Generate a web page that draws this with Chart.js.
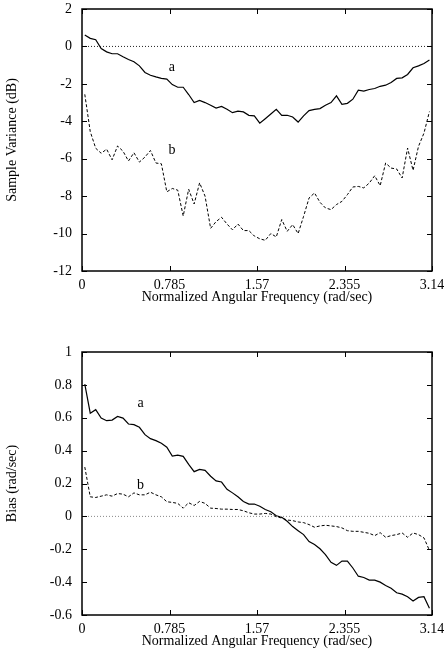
<!DOCTYPE html>
<html>
<head>
<meta charset="utf-8">
<script src="https://cdn.jsdelivr.net/npm/chart.js@4/dist/chart.umd.min.js"></script>
<style>
  html, body { margin: 0; padding: 0; background: #fff; }
  #wrap { position: relative; width: 444px; height: 650px; }
  canvas { position: absolute; left: 0; }
</style>
</head>
<body>
<div id="wrap">
  <canvas id="c1" width="444" height="306" style="top:0px"></canvas>
  <canvas id="c2" width="444" height="344" style="top:306px"></canvas>
</div>
<script>
// ---- data ----
const freq = [0.025,0.074,0.123,0.172,0.221,0.270,0.319,0.368,0.417,0.466,0.515,0.565,0.614,0.663,0.712,0.761,
  0.810,0.859,0.908,0.957,1.006,1.055,1.104,1.154,1.203,1.252,1.301,1.350,1.399,1.448,1.497,1.546,
  1.595,1.644,1.694,1.743,1.792,1.841,1.890,1.939,1.988,2.037,2.086,2.135,2.184,2.234,2.283,2.332,
  2.381,2.430,2.479,2.528,2.577,2.626,2.675,2.724,2.773,2.823,2.872,2.921,2.970,3.019,3.068,3.117];

const varianceA = [0.61,0.43,0.36,-0.11,-0.29,-0.39,-0.39,-0.55,-0.70,-0.82,-1.04,-1.39,-1.54,-1.63,-1.71,-1.75,
  -2.04,-2.18,-2.18,-2.57,-3.00,-2.89,-3.00,-3.14,-3.29,-3.21,-3.36,-3.54,-3.46,-3.50,-3.68,-3.71,
  -4.10,-3.86,-3.61,-3.36,-3.68,-3.68,-3.77,-4.04,-3.71,-3.43,-3.36,-3.32,-3.14,-3.00,-2.64,-3.09,
  -3.04,-2.82,-2.34,-2.39,-2.30,-2.25,-2.13,-2.07,-1.93,-1.71,-1.68,-1.50,-1.14,-1.04,-0.91,-0.73];

const varianceB = [-2.56,-4.55,-5.44,-5.71,-5.49,-6.06,-5.32,-5.60,-6.12,-5.68,-6.18,-5.91,-5.56,-6.23,-6.27,-7.77,
  -7.59,-7.68,-9.06,-7.63,-8.42,-7.29,-8.00,-9.72,-9.36,-9.13,-9.49,-9.80,-9.49,-9.84,-9.84,-10.13,
  -10.28,-10.36,-10.00,-10.18,-9.25,-9.88,-9.52,-10.00,-9.08,-8.10,-7.83,-8.33,-8.63,-8.72,-8.45,-8.28,
  -7.92,-7.51,-7.48,-7.56,-7.30,-6.91,-7.44,-6.23,-6.50,-6.55,-7.03,-5.43,-6.62,-5.34,-4.63,-3.48];

const biasA = [0.804,0.628,0.649,0.598,0.582,0.586,0.608,0.598,0.562,0.558,0.542,0.497,0.473,0.461,0.445,0.421,
  0.367,0.373,0.365,0.316,0.272,0.286,0.280,0.244,0.216,0.209,0.165,0.143,0.119,0.091,0.075,0.075,
  0.062,0.042,0.028,0.004,-0.006,-0.030,-0.062,-0.087,-0.111,-0.153,-0.171,-0.197,-0.233,-0.280,-0.298,-0.272,
  -0.272,-0.314,-0.364,-0.372,-0.388,-0.388,-0.400,-0.420,-0.437,-0.465,-0.473,-0.489,-0.515,-0.493,-0.489,-0.559];

const biasB = [0.300,0.119,0.115,0.123,0.131,0.123,0.139,0.135,0.119,0.143,0.131,0.131,0.147,0.131,0.119,0.089,
  0.085,0.079,0.050,0.083,0.066,0.091,0.079,0.050,0.048,0.044,0.044,0.042,0.042,0.034,0.022,0.014,
  0.014,0.018,0.014,-0.002,-0.010,-0.022,-0.026,-0.034,-0.038,-0.050,-0.066,-0.058,-0.054,-0.058,-0.062,-0.070,
  -0.087,-0.091,-0.091,-0.097,-0.103,-0.117,-0.099,-0.127,-0.117,-0.111,-0.101,-0.127,-0.101,-0.111,-0.131,-0.207];

const xTickValues = [0, 0.785, 1.57, 2.355, 3.14];
const xTickLabels = ['0', '0.785', '1.57', '2.355', '3.14'];
const xTitle = 'Normalized Angular Frequency (rad/sec)';
const yTitleTop = 'Sample Variance (dB)';
const yTitleBottom = 'Bias (rad/sec)';
const curveLabelsTop = [{t:'a', x:0.807, y:-1.30}, {t:'b', x:0.807, y:-5.76}];
const curveLabelsBottom = [{t:'a', x:0.525, y:0.665}, {t:'b', x:0.525, y:0.166}];

// ---- helpers ----
const FONT = '"Liberation Serif", "Times New Roman", serif';
const FS = 14;
const pts = (vals) => vals.map((v, i) => ({x: freq[i], y: v}));

const frameTicks = {
  id: 'frameTicks',
  afterDatasetsDraw(chart, args, opts) {
    const {ctx, chartArea: a, scales: {x, y}} = chart;
    ctx.save();
    ctx.strokeStyle = '#000';
    ctx.lineWidth = 1;
    ctx.beginPath();
    x.ticks.forEach(t => {
      const px = Math.round(x.getPixelForValue(t.value)) + 0.5;
      ctx.moveTo(px, a.bottom); ctx.lineTo(px, a.bottom - 5);
      ctx.moveTo(px, a.top); ctx.lineTo(px, a.top + 5);
    });
    y.ticks.forEach(t => {
      const py = Math.round(y.getPixelForValue(t.value)) + 0.5;
      ctx.moveTo(a.left, py); ctx.lineTo(a.left + 5, py);
      ctx.moveTo(a.right, py); ctx.lineTo(a.right - 5, py);
    });
    ctx.stroke();
    ctx.lineWidth = 1.5;
    ctx.strokeRect(a.left, a.top, a.right - a.left, a.bottom - a.top);
    ctx.fillStyle = '#000';
    ctx.font = FS + 'px ' + FONT;
    ctx.textAlign = 'center';
    ctx.textBaseline = 'alphabetic';
    (opts.labels || []).forEach(l => {
      ctx.fillText(l.t, x.getPixelForValue(l.x), y.getPixelForValue(l.y));
    });
    ctx.restore();
  }
};

function makeChart(id, a, b, yMin, yMax, yStep, yTitle, padTop, labels, zeroColor) {
  return new Chart(document.getElementById(id), {
    type: 'line',
    data: {
      datasets: [
        {data: [{x: 0, y: 0}, {x: 3.14, y: 0}], borderColor: zeroColor, borderWidth: 1, borderDash: [1, 2], pointRadius: 0},
        {data: pts(a), borderColor: '#000', borderWidth: 1.2, pointRadius: 0, tension: 0},
        {data: pts(b), borderColor: '#000', borderWidth: 1, borderDash: [3, 2], pointRadius: 0, tension: 0}
      ]
    },
    options: {
      responsive: false,
      animation: false,
      devicePixelRatio: 1,
      layout: {padding: {left: 0, right: 12, top: padTop, bottom: 0}},
      plugins: {legend: {display: false}, tooltip: {enabled: false}, frameTicks: {labels}},
      scales: {
        x: {
          type: 'linear', min: 0, max: 3.14,
          afterBuildTicks: (s) => { s.ticks = xTickValues.map(v => ({value: v})); },
          afterFit: (s) => { s.height = 35; s.paddingLeft = 0; s.paddingRight = 0; },
          grid: {display: false, drawTicks: false},
          border: {display: false},
          ticks: {
            padding: 6, color: '#000', maxRotation: 0, autoSkip: false,
            font: {family: FONT, size: FS},
            callback: (v, i) => xTickLabels[i]
          },
          title: {display: true, text: xTitle, color: '#000', font: {family: FONT, size: FS}, padding: {top: 0, bottom: 0}}
        },
        y: {
          type: 'linear', min: yMin, max: yMax,
          afterFit: (s) => { s.width = 82; s.paddingTop = 0; s.paddingBottom = 0; },
          grid: {display: false, drawTicks: false},
          border: {display: false},
          ticks: {
            stepSize: yStep, padding: 10, color: '#000', font: {family: FONT, size: FS},
            callback: (v) => String(Number(Number(v).toFixed(1)))
          },
          title: {display: true, text: yTitle, color: '#000', font: {family: FONT, size: FS}, padding: {top: 4, bottom: 0}}
        }
      }
    },
    plugins: [frameTicks]
  });
}

makeChart('c1', varianceA, varianceB, -12, 2, 2, yTitleTop, 9, curveLabelsTop, '#222');
makeChart('c2', biasA, biasB, -0.6, 1, 0.2, yTitleBottom, 46, curveLabelsBottom, '#888');
</script>
</body>
</html>
